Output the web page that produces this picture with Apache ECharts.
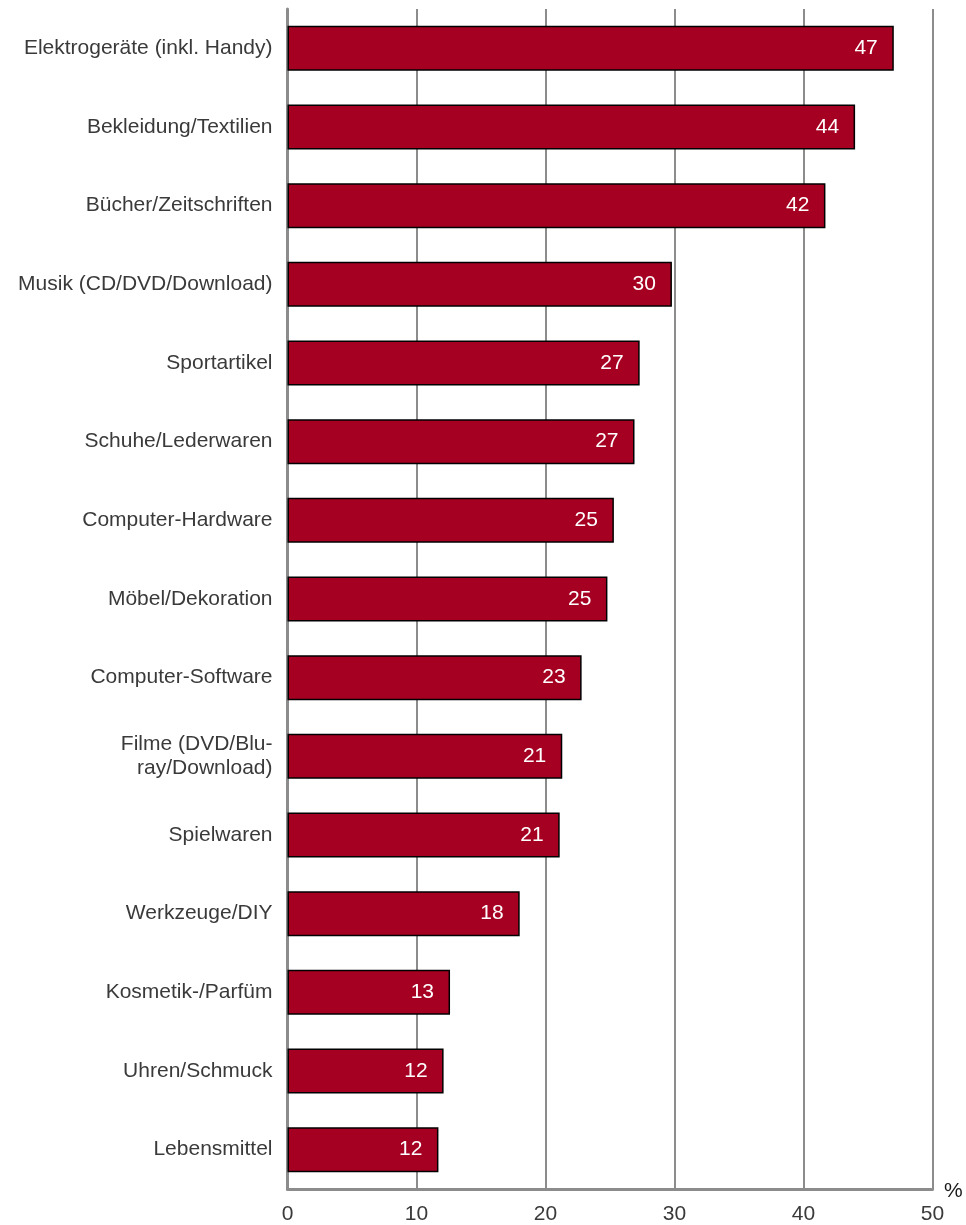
<!DOCTYPE html>
<html>
<head>
<meta charset="utf-8">
<script src="https://cdn.jsdelivr.net/npm/echarts@6/dist/echarts.min.js"></script>
<style>
html,body{margin:0;padding:0;background:#fff;}
#chart{width:966px;height:1225px;}
</style>
</head>
<body>
<div id="chart"></div>
<script>
const categories = [
  "Elektrogeräte (inkl. Handy)",
  "Bekleidung/Textilien",
  "Bücher/Zeitschriften",
  "Musik (CD/DVD/Download)",
  "Sportartikel",
  "Schuhe/Lederwaren",
  "Computer-Hardware",
  "Möbel/Dekoration",
  "Computer-Software",
  "Filme (DVD/Blu-\nray/Download)",
  "Spielwaren",
  "Werkzeuge/DIY",
  "Kosmetik-/Parfüm",
  "Uhren/Schmuck",
  "Lebensmittel"
];
const values = [47.0, 44.0, 41.7, 29.8, 27.3, 26.9, 25.3, 24.8, 22.8, 21.3, 21.1, 18.0, 12.6, 12.1, 11.7];
const valueLabels = [47, 44, 42, 30, 27, 27, 25, 25, 23, 21, 21, 18, 13, 12, 12];
const xTicks = [0, 10, 20, 30, 40, 50];
const unit = "%";

const chart = echarts.init(document.getElementById('chart'), null, {renderer: 'canvas'});
const FONT = "'Liberation Sans', Arial, sans-serif";
chart.setOption({
  animation: false,
  backgroundColor: '#fff',
  grid: {left: 287.5, right: 33.5, top: 9, bottom: 36, containLabel: false},
  xAxis: {
    type: 'value',
    min: xTicks[0],
    max: xTicks[xTicks.length - 1],
    interval: 10,
    axisLine: {show: true, onZero: false, lineStyle: {color: '#8c8c8c', width: 3}},
    axisTick: {show: false},
    splitLine: {show: true, lineStyle: {color: '#8c8c8c', width: 2}},
    axisLabel: {fontFamily: FONT, fontSize: 21, color: '#3a3a3a', margin: 15}
  },
  yAxis: {
    type: 'category',
    data: categories,
    inverse: true,
    axisLine: {show: true, lineStyle: {color: '#8c8c8c', width: 3}},
    axisTick: {show: false},
    splitLine: {show: false},
    axisLabel: {fontFamily: FONT, fontSize: 21, color: '#3a3a3a', margin: 15, lineHeight: 24, align: 'right', padding: [3, 0, 0, 0]}
  },
  graphic: [{
    type: 'text',
    left: 944,
    top: 1181,
    style: {text: unit, font: '21px ' + FONT, fill: '#1a1a1a'}
  }],
  series: [{
    type: 'bar',
    data: values,
    barWidth: 45,
    itemStyle: {color: '#A50021', borderColor: '#000', borderWidth: 1.5},
    label: {
      show: true,
      position: 'insideRight',
      distance: 16,
      color: '#fff',
      fontFamily: FONT,
      fontSize: 21,
      formatter: p => String(valueLabels[p.dataIndex])
    }
  }]
});
</script>
</body>
</html>
